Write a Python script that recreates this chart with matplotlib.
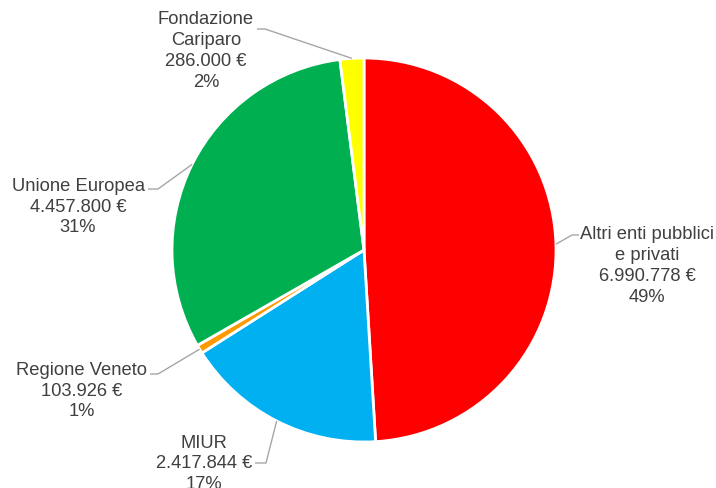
import numpy as np
import matplotlib.pyplot as plt

plt.rcParams['font.family'] = ['Liberation Sans', 'DejaVu Sans']

# dati
labels = ["Altri enti pubblici\ne privati", "MIUR", "Regione Veneto",
          "Unione Europea", "Fondazione\nCariparo"]
values = [6990778, 2417844, 103926, 4457800, 286000]
colors = ["#ff0000", "#00b0f0", "#ff9900", "#00b050", "#ffff00"]

W, H = 716, 488
# posizioni etichette (pixel immagine, y verso il basso)
text_pos = [(647, 266), (204, 464), (82, 391), (78, 207), (206, 51)]
# gomito della linea guida e fine del tratto orizzontale
elbow = [(572, 235), (266, 463), (158, 374), (158, 189), (265, 29)]
tail = [(579, 235), (255, 463), (150, 374), (148, 189), (257, 29)]


def fmt_eur(v):
    return f"{v:,}".replace(",", ".") + " €"


fig = plt.figure(figsize=(W / 100, H / 100), dpi=100)
ax = fig.add_axes([0, 0, 1, 1])

cx, cy, r = 364, H - 250, 192
wedges, _ = ax.pie(values, colors=colors, startangle=90, counterclock=False,
                   center=(cx, cy), radius=r, frame=True,
                   wedgeprops=dict(edgecolor="white", linewidth=2))
ax.set_xlim(0, W)
ax.set_ylim(0, H)
ax.set_aspect("equal")
ax.axis("off")

total = sum(values)
for w, lab, v, tp, el, tl in zip(wedges, labels, values, text_pos, elbow, tail):
    ang = np.deg2rad((w.theta1 + w.theta2) / 2)
    ax_x = cx + r * np.cos(ang)
    ax_y = cy + r * np.sin(ang)
    ax.plot([ax_x, el[0], tl[0]], [ax_y, H - el[1], H - tl[1]],
            color="#a6a6a6", lw=1, solid_capstyle="butt", zorder=1)
    pct = round(v / total * 100)
    ax.text(tp[0], H - tp[1], f"{lab}\n{fmt_eur(v)}\n{pct}%",
            ha="center", va="center", multialignment="center",
            fontsize=13.2, color="#404040", linespacing=1.3)

fig.savefig("out.png", dpi=100, facecolor="white")
